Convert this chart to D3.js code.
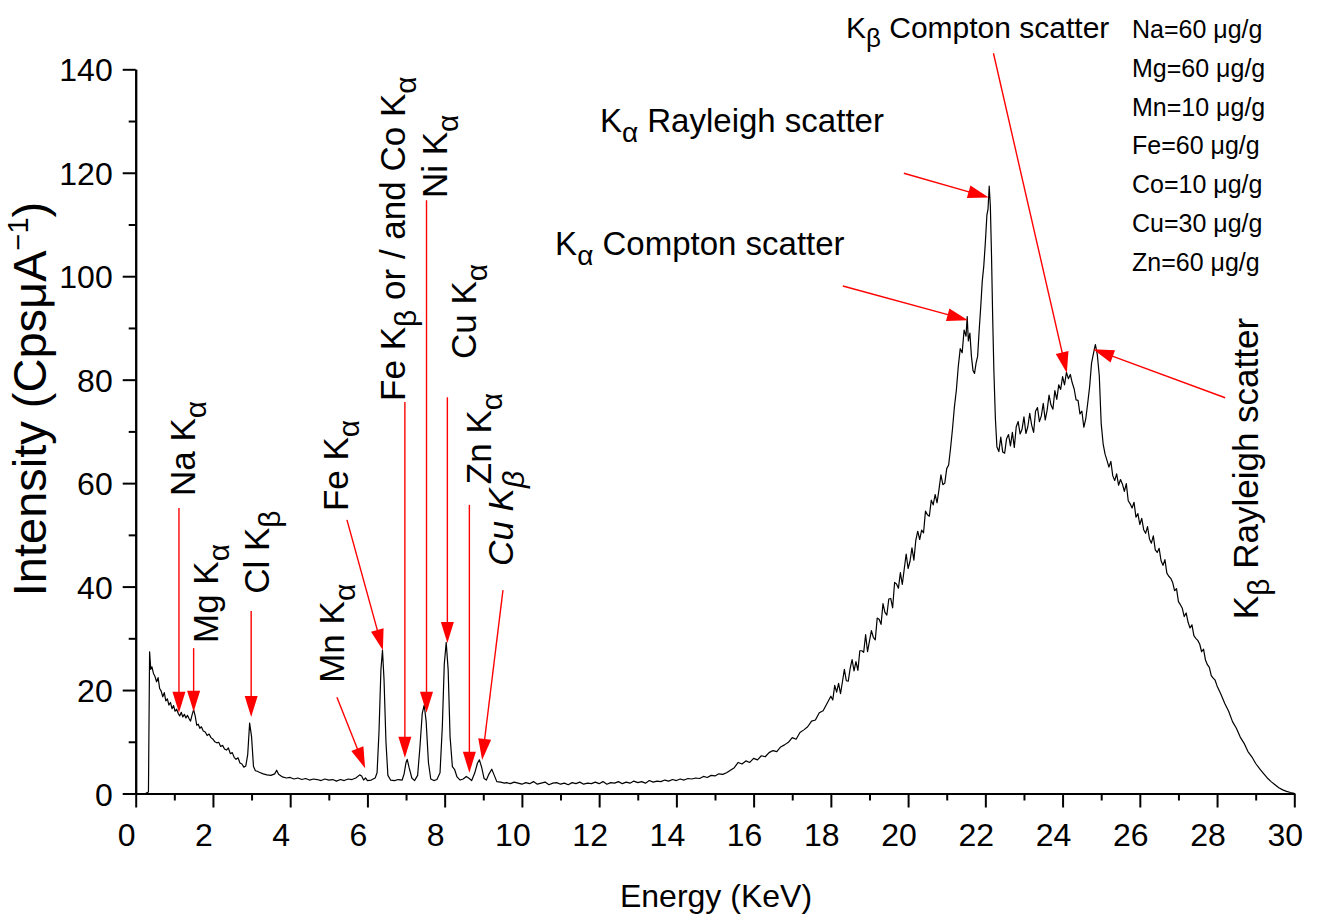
<!DOCTYPE html>
<html><head><meta charset="utf-8">
<script src="https://cdn.jsdelivr.net/npm/d3@7"></script>
<style>
body{margin:0;background:#fff}
svg{display:block}
text{font-family:"Liberation Sans",Arial,Helvetica,sans-serif;fill:#000}
</style>
</head><body>
<svg id="chart" width="1321" height="917"></svg>
<script>
// ---------------- DATA (energy keV, intensity Cps/uA) ----------------
const lowRegion = [
 [0.25,0],[0.33,0.3],[0.36,27.4],[0.39,24.0],[0.42,24.5],[0.46,23.2],[0.50,22.6],[0.54,21.6],[0.58,22.4],
 [0.62,20.3],[0.66,19.8],[0.70,18.7],[0.74,19.5],[0.78,17.9],[0.82,18.3],[0.86,17.1],[0.90,17.6],[0.94,16.4],
 [0.98,17.0],[1.02,15.9],[1.06,16.3],[1.10,15.5],[1.14,15.0],[1.18,15.7],[1.22,14.8],[1.26,15.3],[1.30,14.6],
 [1.34,15.1],[1.38,14.5],[1.42,14.0],[1.46,15.2],[1.50,16.2],[1.54,15.0],[1.58,13.2],[1.62,13.4],[1.66,12.6],
 [1.70,12.9],[1.75,12.1],[1.80,11.9],[1.85,11.2],[1.90,11.5],[1.95,10.8],[2.00,10.5],[2.05,10.0],[2.10,9.8],
 [2.15,9.9],[2.20,9.1],[2.25,9.3],[2.30,8.6],[2.35,8.4],[2.40,8.8],[2.45,7.7],[2.50,7.9],[2.55,7.0],[2.60,6.6],
 [2.65,6.9],[2.70,5.9],[2.75,5.7],[2.80,5.1],[2.85,5.3],[2.90,7.5],[2.95,13.6],[3.00,11.0],[3.05,5.2],[3.10,4.4],
 [3.15,4.3],[3.20,4.1],[3.30,3.8],[3.40,3.6],[3.50,3.5],[3.60,3.8],[3.65,4.5],[3.70,3.7],[3.80,3.2],[3.90,3.0],
 [4.00,3.1],[4.10,2.8],[4.20,3.0],[4.30,2.7],[4.40,2.9],[4.50,2.6],[4.60,2.8],[4.70,2.7],[4.80,2.5],[4.90,2.8],
 [5.00,2.6],[5.10,2.7],[5.20,2.4],[5.30,2.7],[5.40,2.5],[5.50,2.8],[5.60,2.7],[5.70,3.0],[5.80,3.6],[5.85,3.4],
 [5.90,2.6],[5.95,3.0],[6.00,2.5],[6.10,2.6],[6.20,3.0]
];
const fluorescenceRegion = [
 [6.25,4.0],[6.30,12.0],[6.35,24.0],[6.39,27.7],[6.43,22.0],[6.48,10.0],[6.53,3.5],[6.60,2.6],[6.70,2.5],
 [6.80,2.7],[6.90,2.6],[6.95,3.8],[7.00,6.0],[7.03,6.6],[7.08,5.0],[7.15,3.0],[7.22,2.5],[7.30,3.5],[7.36,9.0],
 [7.42,15.5],[7.47,17.1],[7.52,14.0],[7.58,6.0],[7.64,2.8],[7.72,2.5],[7.80,2.7],[7.88,4.0],[7.94,13.0],
 [7.99,25.0],[8.04,29.2],[8.09,24.0],[8.14,11.0],[8.20,5.2],[8.26,4.6],[8.32,3.2],[8.40,2.6],[8.48,2.8],
 [8.56,3.3],[8.62,3.0],[8.70,2.5],[8.78,4.0],[8.85,5.9],[8.90,6.5],[8.96,5.0],[9.02,2.9],[9.08,2.6],[9.15,3.8],
 [9.22,4.7],[9.28,3.6],[9.35,2.3],[9.45,2.2],[9.55,2.0]
];
const backgroundRegion = [
 [9.6,2.1],[9.7,1.9],[9.8,2.2],[9.9,2.0],[10.0,1.8],[10.1,2.1],[10.2,1.9],[10.3,2.3],[10.4,1.8],[10.5,2.0],
 [10.6,2.2],[10.7,1.7],[10.8,2.0],[10.9,2.1],[11.0,1.8],[11.1,2.0],[11.2,1.7],[11.3,2.1],[11.4,1.9],[11.5,2.2],
 [11.6,1.8],[11.7,2.0],[11.8,1.9],[11.9,2.2],[12.0,1.9],[12.1,2.3],[12.2,1.8],[12.3,2.1],[12.4,2.0],[12.5,2.3],
 [12.6,1.9],[12.7,2.2],[12.8,2.0],[12.9,2.4],[13.0,2.1],[13.1,2.3],[13.2,2.0],[13.3,2.5],[13.4,2.2],[13.5,2.4],
 [13.6,2.3],[13.7,2.6],[13.8,2.4],[13.9,2.7],[14.0,2.5],[14.1,2.8],[14.2,2.6],[14.3,2.9],[14.4,2.8],[14.5,3.0],
 [14.6,2.9],[14.7,3.3],[14.8,3.1],[14.9,3.5],[15.0,3.4],[15.1,3.8],[15.2,3.7],[15.3,4.0],[15.4,4.5],[15.5,5.0],
 [15.6,6.0],[15.7,5.7],[15.8,6.3],[15.9,6.0],[16.0,6.8],[16.1,6.5],[16.2,7.3],[16.3,7.1],[16.4,7.9],[16.5,8.3],
 [16.6,8.1],[16.7,9.0],[16.8,9.4],[16.9,9.9],[17.0,10.8],[17.1,10.5],[17.2,11.8],[17.3,12.3],[17.4,12.9],
 [17.5,14.0],[17.6,14.2],[17.7,15.6],[17.8,16.0],[17.9,17.4]
];
const scatterRegion = [
 [18.00,18.8],[18.05,18.1],[18.10,20.9],[18.15,19.6],[18.20,21.3],[18.25,19.3],[18.30,21.6],[18.35,24.0],
 [18.40,21.8],[18.45,21.7],[18.50,24.2],[18.55,25.9],[18.60,23.7],[18.65,25.5],[18.70,23.8],[18.75,27.6],
 [18.80,27.6],[18.85,27.3],[18.90,30.7],[18.95,27.4],[19.00,29.5],[19.05,31.5],[19.10,30.2],[19.15,29.7],
 [19.20,33.9],[19.25,33.7],[19.30,32.7],[19.35,36.7],[19.40,35.0],[19.45,34.5],[19.50,37.6],[19.55,37.7],
 [19.60,35.9],[19.65,40.8],[19.70,40.5],[19.75,39.7],[19.80,42.7],[19.85,40.4],[19.90,43.4],[19.95,46.3],
 [20.00,43.5],[20.05,44.9],[20.10,47.5],[20.15,45.1],[20.20,49.0],[20.25,50.7],[20.30,49.1],[20.35,50.9],
 [20.40,50.4],[20.45,54.6],[20.50,53.9],[20.55,53.6],[20.60,56.7],[20.65,55.8],[20.70,57.8],[20.75,56.2],
 [20.80,58.8],[20.85,61.6],[20.90,59.7],[20.95,60.0],[21.00,62.8],[21.05,63.5],[21.10,66.8],[21.15,70.5],
 [21.20,74.8],[21.25,78.0],[21.30,82.6],[21.35,86.0],[21.40,85.2],[21.45,89.6],[21.50,88.4],[21.53,92.2],
 [21.56,87.5],[21.60,89.0],[21.64,84.5],[21.68,81.8],[21.72,81.2],[21.76,83.2],[21.80,84.5],[21.84,89.5],
 [21.88,94.0],[21.92,99.0],[21.96,102.0],[22.00,106.5],[22.04,111.8],[22.07,113.0],[22.10,117.4],[22.13,113.5],
 [22.16,104.0],[22.19,92.0],[22.22,82.0],[22.26,72.5],[22.30,67.0],[22.35,66.1],[22.40,68.9],[22.45,66.0],
 [22.50,65.8],[22.55,68.6],[22.60,69.4],[22.65,67.2],[22.70,69.8],[22.75,66.9],[22.80,70.9],[22.85,71.9],
 [22.90,69.5],[22.95,70.4],[23.00,72.8],[23.05,69.6],[23.10,70.9],[23.15,73.5],[23.20,71.2],[23.25,69.8],
 [23.30,73.9],[23.35,74.6],[23.40,71.9],[23.45,73.0],[23.50,75.4],[23.55,72.2],[23.60,74.1],[23.65,77.0],
 [23.70,75.1],[23.75,74.3],[23.80,77.9],[23.85,76.2],[23.90,79.0],[23.95,78.1],[24.00,80.6],[24.05,79.0],
 [24.10,81.4],[24.15,80.2],[24.20,81.0],[24.25,79.4],[24.30,78.2],[24.35,76.1],[24.40,76.0],[24.45,73.4],
 [24.50,73.9],[24.55,70.8],[24.60,72.4],[24.65,75.4],[24.70,78.6],[24.75,83.2],[24.80,85.1],[24.85,86.8],
 [24.90,84.8],[24.95,80.8],[25.00,71.5],[25.05,67.6],[25.10,65.6],[25.15,64.4],[25.20,63.1],[25.25,64.2],
 [25.30,61.4],[25.35,60.5],[25.40,61.8],[25.45,59.6],[25.50,60.7],[25.55,59.8],[25.60,58.4],[25.65,59.9],
 [25.70,56.6],[25.75,56.0],[25.80,55.2],[25.85,56.3],[25.90,53.4],[25.95,54.1],[26.00,52.0],[26.05,53.2],
 [26.10,51.0],[26.15,50.3],[26.20,51.6],[26.25,49.2],[26.30,48.4],[26.35,49.8],[26.40,47.1],[26.45,46.6],
 [26.50,47.4],[26.55,45.0],[26.60,44.1],[26.65,45.2],[26.70,42.6],[26.75,42.0],[26.80,41.6],[26.85,40.8],
 [26.90,39.2],[26.95,39.6],[27.00,37.1],[27.05,36.5],[27.10,35.8],[27.15,34.2],[27.20,34.9],[27.25,33.1],
 [27.30,32.0],[27.35,32.6],[27.40,30.5],[27.45,30.0],[27.50,29.6],[27.55,28.9],[27.60,27.4],[27.65,27.9],
 [27.70,25.8],[27.75,24.9],[27.80,24.4],[27.85,22.8],[27.90,22.3],[27.95,21.9],[28.00,20.8],
 [28.1,19.2],[28.2,17.4],[28.3,15.9],[28.4,13.9],[28.5,12.6],[28.6,10.9],[28.7,9.7],[28.8,8.1],[28.9,7.1],
 [29.0,5.8],[29.1,4.8],[29.2,3.9],[29.3,3.0],[29.4,2.3],[29.5,1.7],[29.6,1.1],[29.7,0.7],[29.8,0.4],[29.9,0.2],[30.0,0.05]
];
const xTicks = [0,2,4,6,8,10,12,14,16,18,20,22,24,26,28,30];
const xMinorTicks = [1,3,5,7,9,11,13,15,17,19,21,23,25,27,29];
const yTicks = [0,20,40,60,80,100,120,140];
const yMinorTicks = [10,30,50,70,90,110,130];
const legendLines = ["Na=60 \u03bcg/g","Mg=60 \u03bcg/g","Mn=10 \u03bcg/g","Fe=60 \u03bcg/g","Co=10 \u03bcg/g","Cu=30 \u03bcg/g","Zn=60 \u03bcg/g"];

// annotation labels: text segments ("n" normal, "s" subscript), anchor in data units
const peakLabels = [
 {seg:[["Na K","n"],["\u03b1","s"]], at:[1.54,57.5], rot:true},
 {seg:[["Mg K","n"],["\u03b1","s"]], at:[2.14,29.1], rot:true},
 {seg:[["Cl K","n"],["\u03b2","s"]], at:[3.44,38.6], rot:true},
 {seg:[["Mn K","n"],["\u03b1","s"]], at:[5.39,21.4], rot:true},
 {seg:[["Fe K","n"],["\u03b1","s"]], at:[5.51,54.6], rot:true},
 {seg:[["Fe K","n"],["\u03b2","s"],[" or / and Co K","n"],["\u03b1","s"]], at:[6.97,75.9], rot:true},
 {seg:[["Ni K","n"],["\u03b1","s"]], at:[8.06,115.1], rot:true},
 {seg:[["Cu K","n"],["\u03b1","s"]], at:[8.81,84.0], rot:true},
 {seg:[["Zn K","n"],["\u03b1","s"]], at:[9.20,59.8], rot:true},
 {seg:[["Cu K","n"],["\u03b2","s"]], at:[9.77,44.0], rot:true, italic:true},
 {seg:[["K","n"],["\u03b2","s"],[" Rayleigh scatter","n"]], at:[29.06,33.7], rot:true},
 {seg:[["K","n"],["\u03b2","s"],[" Compton scatter","n"]], at:[18.39,146.0], rot:false, small:true},
 {seg:[["K","n"],["\u03b1","s"],[" Rayleigh scatter","n"]], at:[12.02,127.9], rot:false},
 {seg:[["K","n"],["\u03b1","s"],[" Compton scatter","n"]], at:[10.86,104.1], rot:false}
];
// arrows: tail -> tip in data units
const arrows = [
 {from:[1.12,55.2], to:[1.12,15.6]},
 {from:[1.50,28.1], to:[1.50,15.8]},
 {from:[2.99,35.3], to:[2.99,14.8]},
 {from:[5.21,18.6], to:[5.94,4.9]},
 {from:[5.47,52.9], to:[6.40,27.7]},
 {from:[6.97,75.7], to:[6.97,6.9]},
 {from:[7.53,114.7], to:[7.53,15.6]},
 {from:[8.07,76.6], to:[8.07,29.1]},
 {from:[8.64,55.8], to:[8.64,4.0]},
 {from:[9.51,39.3], to:[8.97,6.5]},
 {from:[22.21,143.1], to:[24.11,81.3]},
 {from:[19.89,119.9], to:[22.09,115.2]},
 {from:[18.31,98.1], to:[21.55,91.5]},
 {from:[28.21,76.5], to:[24.79,85.9]}
];

const spectrum = lowRegion.concat(fluorescenceRegion, backgroundRegion, scatterRegion);

// ---------------- DRAW ----------------
const svg = d3.select("#chart");
const x = d3.scaleLinear().domain([0,30]).range([135.7,1294.3]);
const y = d3.scaleLinear().domain([0,140]).range([793.5,69.3]);

function styleAxis(g){
  g.selectAll("path.domain").attr("stroke","#000").attr("stroke-width",2);
  g.selectAll(".tick line").attr("stroke","#000").attr("stroke-width",2);
}
// x axis
const gxm = svg.append("g").attr("transform",`translate(0,${y(0)})`)
  .call(d3.axisBottom(x).tickValues(xMinorTicks).tickSize(7).tickSizeOuter(0).tickFormat(""));
styleAxis(gxm);
const gx = svg.append("g").attr("transform",`translate(0,${y(0)})`)
  .call(d3.axisBottom(x).tickValues(xTicks).tickSize(14).tickSizeOuter(0).tickFormat(d3.format("d")));
styleAxis(gx);
gx.selectAll(".tick text").attr("font-size",32).attr("font-family",null).attr("x",-9.5).attr("y",52.5).attr("dy",0);
// y axis
const gym = svg.append("g").attr("transform",`translate(${x(0)},0)`)
  .call(d3.axisLeft(y).tickValues(yMinorTicks).tickSize(7).tickSizeOuter(0).tickFormat(""));
styleAxis(gym);
const gy = svg.append("g").attr("transform",`translate(${x(0)},0)`)
  .call(d3.axisLeft(y).tickValues(yTicks).tickSize(13).tickSizeOuter(0).tickFormat(d3.format("d")));
styleAxis(gy);
gy.selectAll(".tick text").attr("font-size",32).attr("font-family",null).attr("x",-23).attr("dy",0).attr("y",11.5);

// axis titles
svg.append("text").attr("x",716).attr("y",907).attr("text-anchor","middle").attr("font-size",32).text("Energy (KeV)");
const yt = svg.append("text").attr("transform","translate(46,399) rotate(-90)").attr("text-anchor","middle").attr("font-size",47);
yt.append("tspan").text("Intensity (Cps\u03bcA");
yt.append("tspan").attr("font-size",29).attr("dy",-18).text("\u22121");
yt.append("tspan").attr("dy",18).text(")");

// spectrum line
svg.append("path").datum(spectrum)
  .attr("d", d3.line().x(d=>x(d[0])).y(d=>y(d[1])))
  .attr("fill","none").attr("stroke","#000").attr("stroke-width",1.2).attr("stroke-linejoin","round");

// arrows
const ga = svg.append("g");
arrows.forEach(a=>{
  const x0=x(a.from[0]), y0=y(a.from[1]), x1=x(a.to[0]), y1=y(a.to[1]);
  const len=Math.hypot(x1-x0,y1-y0), ux=(x1-x0)/len, uy=(y1-y0)/len;
  const L=21, W=6.5;
  const bx=x1-ux*L, by=y1-uy*L;
  ga.append("line").attr("x1",x0).attr("y1",y0).attr("x2",bx+ux*2).attr("y2",by+uy*2)
    .attr("stroke","#ff0000").attr("stroke-width",1.4);
  ga.append("path").attr("d",`M${x1},${y1}L${bx-uy*W},${by+ux*W}L${bx+uy*W},${by-ux*W}Z`).attr("fill","#ff0000");
});

// labels
const gl = svg.append("g");
peakLabels.forEach(l=>{
  const px=x(l.at[0]), py=y(l.at[1]);
  const fs = l.rot ? 35 : (l.small ? 30 : 33);
  const sfs = Math.round(fs*0.86), sdy = Math.round(fs*0.31);
  const t = gl.append("text").attr("font-size",fs)
    .attr("transform", l.rot ? `translate(${px},${py}) rotate(-90)` : `translate(${px},${py})`);
  if(l.italic) t.attr("font-style","italic");
  let shifted=false;
  l.seg.forEach(([s,k])=>{
    const ts=t.append("tspan").text(s);
    if(k==="s"){ ts.attr("font-size",sfs).attr("dy",sdy); shifted=true; }
    else if(shifted){ ts.attr("dy",-sdy); shifted=false; }
  });
});

// legend (concentrations)
const gLeg = svg.append("g");
legendLines.forEach((s,i)=>{
  gLeg.append("text").attr("x",1132).attr("y",38+i*38.8).attr("font-size",25).text(s);
});
</script>
</body></html>
